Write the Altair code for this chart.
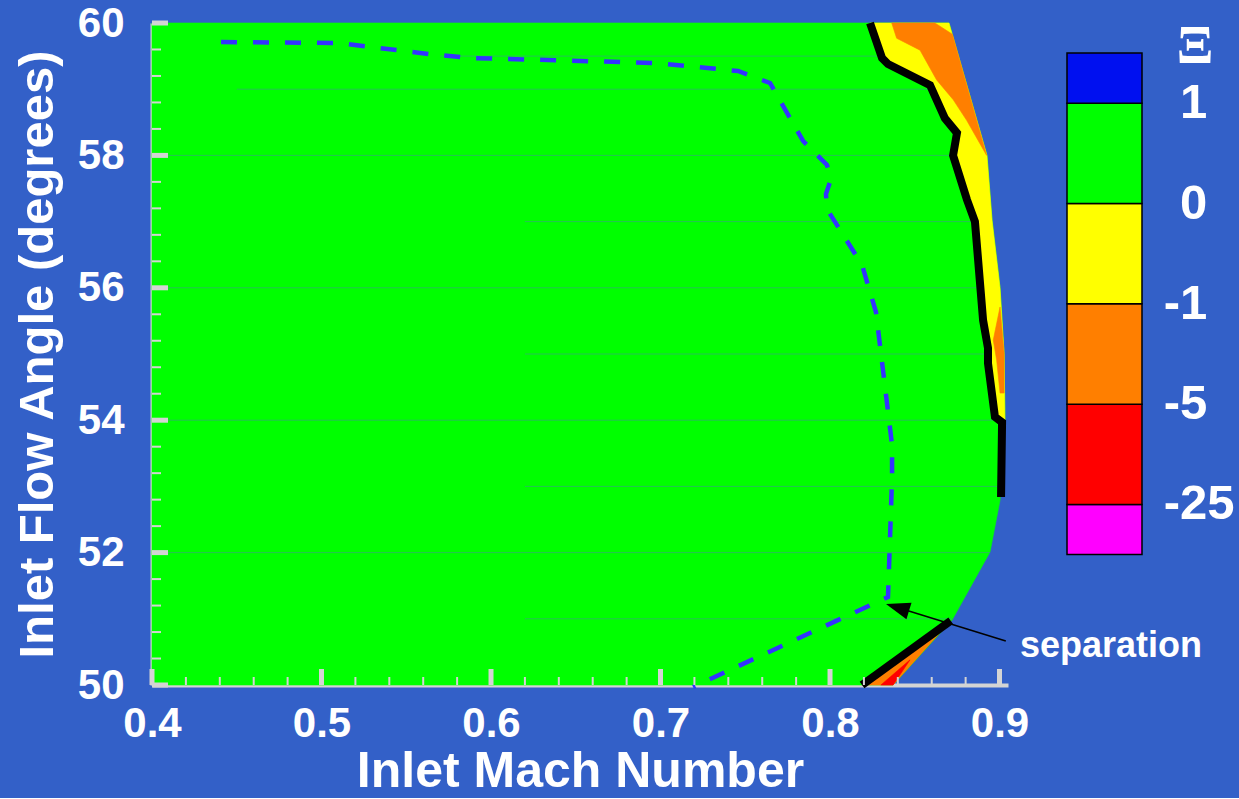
import altair as alt
import pandas as pd

BG = "#3360c8"
AXIS_GRAY = "#d4d4d4"
FONT = "Liberation Sans"

# ---------------- data ----------------
# computational domain outline (green region)
domain_M = [0.4, 0.4, 0.8702, 0.8926, 0.8956, 0.9003, 0.9027, 0.9032, 0.9003, 0.8944, 0.872, 0.8372]
domain_A = [50.0, 60.0, 60.0, 58.0, 57.02, 56.0, 55.01, 54.0, 52.79, 52.01, 50.98, 50.0]

# thick black contour (upper part)
black_M = [0.8236, 0.8307, 0.8342, 0.859, 0.8678, 0.8749, 0.8726, 0.8808, 0.8855,
           0.8903, 0.8932, 0.8932, 0.8973, 0.9015, 0.9009]
black_A = [60.0, 59.47, 59.38, 59.06, 58.56, 58.34, 58.0, 57.33, 57.0,
           55.51, 55.09, 54.86, 54.05, 53.97, 52.84]
# thick black contour (lower part)
black2_M = [0.8712, 0.8189]
black2_A = [50.97, 50.0]

# yellow band: black contour then outer edge back up
yellow_M = [0.8236, 0.8307, 0.8342, 0.859, 0.8678, 0.8749, 0.8726, 0.8808, 0.8855,
            0.8903, 0.8932, 0.8932, 0.8973, 0.9015, 0.9032, 0.9027, 0.9003, 0.8956, 0.8926, 0.8702]
yellow_A = [60.0, 59.47, 59.38, 59.06, 58.56, 58.34, 58.0, 57.33, 57.0,
            55.51, 55.09, 54.86, 54.05, 53.97, 54.0, 55.01, 56.0, 57.02, 58.0, 60.0]

# orange patches
orange1_M = [0.8364, 0.8619, 0.8722, 0.8924, 0.8806, 0.8727, 0.8629, 0.8531, 0.8393]
orange1_A = [60.0, 60.0, 59.83, 58.0, 58.53, 58.84, 59.14, 59.59, 59.77]
orange2_M = [0.9003, 0.8963, 0.8983, 0.9003, 0.9027, 0.9027]
orange2_A = [55.71, 55.21, 54.91, 54.41, 54.41, 55.01]
orange3_M = [0.8712, 0.8189, 0.8372]
orange3_A = [50.97, 50.0, 50.0]

# red patch
red_M = [0.8472, 0.8300, 0.8372]
red_A = [50.38, 50.0, 50.0]

# dashed blue line
dash_M = [0.4407, 0.5097, 0.5681, 0.5888, 0.6968, 0.7457, 0.7646, 0.7841, 0.7982, 0.8006,
          0.7976, 0.7982, 0.8189, 0.8271, 0.8366, 0.8366, 0.8342, 0.7192]
dash_A = [59.713, 59.698, 59.517, 59.471, 59.396, 59.275, 59.094, 58.218, 57.855, 57.644,
          57.417, 57.190, 56.344, 55.634, 53.625, 53.127, 51.329, 49.97]

# faint mesh lines (horizontal element edges)
mesh_M1 = [0.4, 0.4, 0.4, 0.4, 0.62, 0.62, 0.62, 0.62, 0.45, 0.57]
mesh_M2 = [0.8944, 0.9032, 0.9003, 0.8926, 0.872, 0.9011, 0.9027, 0.8956, 0.86, 0.83]
mesh_A = [52, 54, 56, 58, 51, 53, 55, 57, 59, 59.5]

# annotation
note_text = ["separation"]
arrow_tail = (0.9037, 50.665)
arrow_head = (0.8398, 51.171)
note_pos = (0.9121, 50.423)

# axes
x_major = [0.4, 0.5, 0.6, 0.7, 0.8, 0.9]
x_minor = [round(0.4 + 0.02 * k, 2) for k in range(26) if k % 5 != 0]
y_major = [50, 52, 54, 56, 58, 60]
y_minor = [round(50 + 0.4 * k, 1) for k in range(26) if k % 5 != 0]

# colour bar
legend_bins = ["below -25", "-25 to -5", "-5 to -1", "-1 to 0", "0 to 1", "above 1"]
legend_edges = [0, 1, 3, 5, 7, 9, 10]
legend_colors = ["#ff00ff", "#ff0000", "#ff7f00", "#ffff00", "#00ff00", "#0010f0"]
legend_label_pos = [1, 3, 5, 7, 9]
legend_labels = ["-25", "-5", "-1", "0", "1"]
legend_title = "Ξ"

# ---------------- chart ----------------
xs = alt.Scale(domain=[0.4, 0.905], nice=False, zero=False)
ys = alt.Scale(domain=[50, 60], nice=False, zero=False)

xaxis = alt.Axis(values=x_major, format=".1f", ticks=False, tickSize=0, grid=False,
                 domainColor=AXIS_GRAY, domainWidth=4, labelFlush=False, labelOverlap=False,
                 labelFont=FONT, labelFontWeight="bold", labelFontSize=42, labelColor="white",
                 labelPadding=18, title="Inlet Mach Number", titleFont=FONT, titleFontWeight="bold",
                 titleFontSize=50, titleColor="white", titlePadding=2)
yaxis = alt.Axis(values=y_major, format="d", ticks=False, tickSize=0, grid=False,
                 domainColor=AXIS_GRAY, domainWidth=4, labelFlush=False, labelOverlap=False,
                 labelFont=FONT, labelFontWeight="bold", labelFontSize=42, labelColor="white",
                 labelPadding=28, title="Inlet Flow Angle (degrees)", titleFont=FONT,
                 titleFontWeight="bold", titleFontSize=49, titleColor="white", titlePadding=15)

X = alt.X("M:Q", scale=xs, axis=xaxis)
Y = alt.Y("A:Q", scale=ys, axis=yaxis)


def poly_df(parts):
    rows = []
    for pid, (ms, as_) in enumerate(parts):
        for i, (m, a) in enumerate(zip(ms, as_)):
            rows.append({"M": m, "A": a, "i": i, "pid": pid})
    return pd.DataFrame(rows)


def polygon(parts, color):
    return alt.Chart(poly_df(parts)).mark_line(
        interpolate="linear-closed", fill=color, stroke=color, strokeWidth=0.6
    ).encode(x=X, y=Y, order="i:Q", detail="pid:N")


def polyline(ms, as_, **kw):
    df = pd.DataFrame({"M": ms, "A": as_, "i": range(len(ms))})
    return alt.Chart(df).mark_line(**kw).encode(x=X, y=Y, order="i:Q")


green = polygon([(domain_M, domain_A)], "#00ff00")
mesh = alt.Chart(pd.DataFrame({"M": mesh_M1, "M2": mesh_M2, "A": mesh_A})).mark_rule(
    color="#2fb36a", strokeWidth=1, opacity=0.8
).encode(x=X, x2="M2:Q", y=Y)
yellow = polygon([(yellow_M, yellow_A)], "#ffff00")
orange = polygon([(orange1_M, orange1_A), (orange2_M, orange2_A), (orange3_M, orange3_A)], "#ff7f00")
red = polygon([(red_M, red_A)], "#ff0000")
black1 = polyline(black_M, black_A, color="black", strokeWidth=8, strokeJoin="miter")
black2 = polyline(black2_M, black2_A, color="black", strokeWidth=8)
dashed = polyline(dash_M, dash_A, color="#3333ff", strokeWidth=4.5, strokeDash=[16, 16])

xt_major = alt.Chart(pd.DataFrame({"M": x_major, "A": [50] * len(x_major)})).mark_tick(
    orient="vertical", size=16, thickness=5, yOffset=-8, color=AXIS_GRAY, opacity=1
).encode(x=X, y=Y)
xt_minor = alt.Chart(pd.DataFrame({"M": x_minor, "A": [50] * len(x_minor)})).mark_tick(
    orient="vertical", size=8, thickness=2, yOffset=-4, color=AXIS_GRAY, opacity=1
).encode(x=X, y=Y)
yt_major = alt.Chart(pd.DataFrame({"M": [0.4] * len(y_major), "A": y_major})).mark_tick(
    orient="horizontal", size=16, thickness=5, xOffset=8, color=AXIS_GRAY, opacity=1
).encode(x=X, y=Y)
yt_minor = alt.Chart(pd.DataFrame({"M": [0.4] * len(y_minor), "A": y_minor})).mark_tick(
    orient="horizontal", size=9, thickness=2, xOffset=4.5, color=AXIS_GRAY, opacity=1
).encode(x=X, y=Y)

arrow_line = alt.Chart(pd.DataFrame({"M": [arrow_tail[0]], "A": [arrow_tail[1]],
                                     "M2": [arrow_head[0]], "A2": [arrow_head[1]]})).mark_rule(
    color="black", strokeWidth=1.5
).encode(x=X, y=Y, x2="M2:Q", y2="A2:Q")
arrow_tip = alt.Chart(pd.DataFrame({"M": [arrow_head[0]], "A": [arrow_head[1]]})).mark_point(
    shape="M-1,0L1,-0.72L1,0.72Z", filled=True, color="black", opacity=1, size=576, angle=17
).encode(x=X, y=Y)
note = alt.Chart(pd.DataFrame({"M": [note_pos[0]], "A": [note_pos[1]], "t": note_text})).mark_text(
    align="left", baseline="alphabetic", font=FONT, fontWeight="bold", fontSize=36, color="white"
).encode(x=X, y=Y, text="t:N")

main = alt.layer(green, mesh, yellow, orange, red, black1, black2, dashed,
                 xt_minor, xt_major, yt_minor, yt_major, arrow_line, arrow_tip, note
                 ).properties(width=856, height=662)

# ---------- colour bar ----------
leg_df = pd.DataFrame({"bin": legend_bins, "lo": legend_edges[:-1], "hi": legend_edges[1:]})
lys = alt.Scale(domain=[-2.6, 10.6], nice=False, zero=False)
lxs = alt.Scale(domain=[0, 1], nice=False, zero=False)
LY = alt.Y("lo:Q", scale=lys, axis=None)
bar = alt.Chart(leg_df).mark_rect(stroke="black", strokeWidth=1.5).encode(
    x=alt.XDatum(0, scale=lxs, axis=None),
    x2=alt.X2Datum(1),
    y=LY,
    y2="hi:Q",
    fill=alt.Fill("bin:N", scale=alt.Scale(domain=legend_bins, range=legend_colors), legend=None),
)
lab_df = pd.DataFrame({
    "lo": legend_label_pos,
    "digits": [l.lstrip("-") for l in legend_labels],
    "sign": ["-" if l.startswith("-") else "" for l in legend_labels],
})
lab_style = dict(font=FONT, fontWeight="bold", fontSize=49, color="white", baseline="middle", dx=38)
lab_digits = alt.Chart(lab_df).mark_text(align="left", **lab_style).encode(
    x=alt.XDatum(1, scale=lxs, axis=None), y=LY, text="digits:N")
lab_sign = alt.Chart(lab_df).mark_text(align="right", **lab_style).encode(
    x=alt.XDatum(1, scale=lxs, axis=None), y=LY, text="sign:N")
xi = alt.Chart(pd.DataFrame({"t": [legend_title]})).mark_text(
    font="Liberation Serif", fontWeight="bold", fontSize=54, color="white",
    align="center", baseline="middle"
).encode(x=alt.XDatum(1.707, scale=lxs, axis=None), y=alt.YDatum(10.12, scale=lys), text="t:N")
legend = alt.layer(bar, lab_digits, lab_sign, xi).properties(width=75, height=662)

chart = alt.hconcat(main, legend, spacing=59, bounds="flush").properties(
    background=BG, padding={"left": 13, "top": 2, "right": 4, "bottom": 2}
).configure_view(stroke=None)

chart.save("out.html", embed_options={"renderer": "svg", "actions": False})
